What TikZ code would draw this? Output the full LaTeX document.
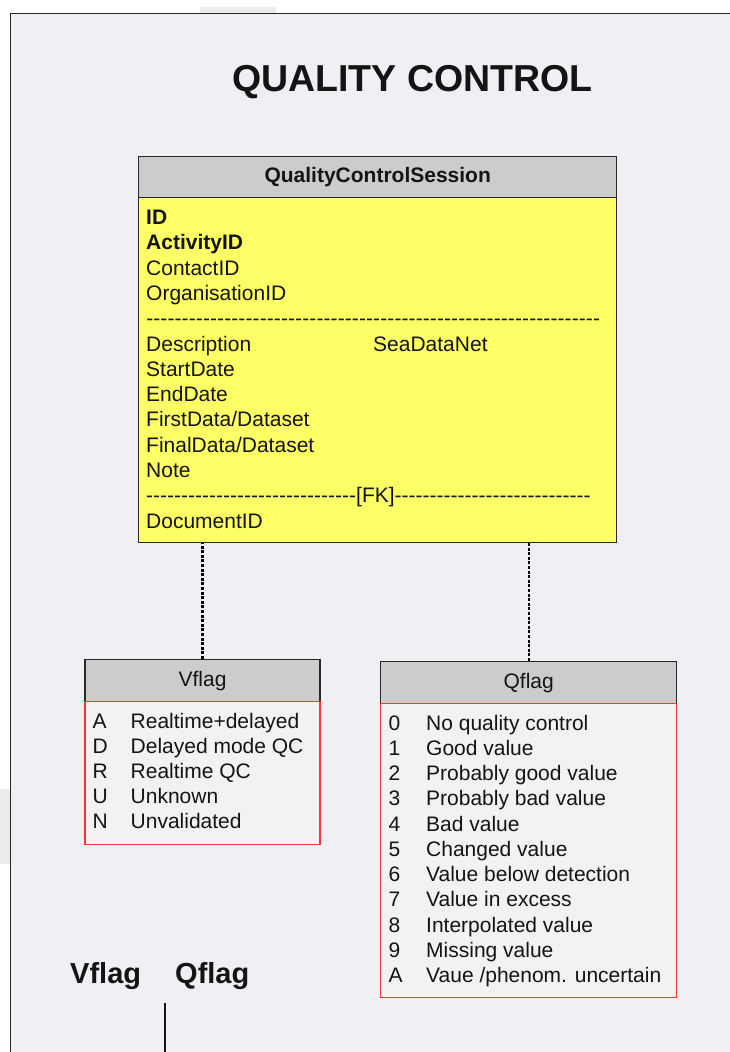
\documentclass[tikz,border=0pt]{standalone}
\usepackage{fontspec}
\setmainfont{Liberation Sans}
\definecolor{paper}{RGB}{240,239,244}
\definecolor{patchgrey}{RGB}{236,236,236}
\definecolor{headgrey}{RGB}{204,204,204}
\definecolor{entity}{RGB}{255,255,102}
\definecolor{flagbody}{RGB}{242,242,242}
\definecolor{flagred}{RGB}{255,51,51}
\definecolor{edge}{RGB}{40,40,40}
\definecolor{ink}{RGB}{20,20,20}
\newcommand{\dashfill}[1]{\hbox to #1{\xleaders\hbox{-}\hfill}}

\begin{document}
\begin{tikzpicture}[x=1pt,y=-1pt,
    every node/.style={text=ink, font=\fontsize{21}{25.3}\selectfont},
    head/.style={draw=edge, fill=headgrey, line width=1.4pt, anchor=north west, inner sep=0pt},
    entitybox/.style={draw=edge, fill=entity, line width=1.4pt, anchor=north west, inner sep=0pt},
    flagbox/.style={draw=flagred, fill=flagbody, line width=1.4pt, anchor=north west, inner sep=0pt},
    row/.style={anchor=base west, inner sep=0pt},
    biglabel/.style={anchor=base west, inner sep=0pt, font=\fontsize{29}{35}\selectfont\bfseries},
    link/.style={black, line width=2.2pt, dash pattern=on 3pt off 1.6pt}]
  \useasboundingbox (0,0) rectangle (730,1052);
  \fill[white] (0,0) rectangle (730,1052);
  \fill[patchgrey] (200,6.5) rectangle (276,13);
  \fill[patchgrey] (0,789) rectangle (10,864);
  \fill[paper] (10.5,13.5) rectangle (730,1052);
  \draw[edge, line width=1.4pt] (10.5,1052) -- (10.5,13.5) -- (730,13.5);

  \node[anchor=base west, inner sep=0pt, font=\fontsize{37.5}{45}\selectfont\bfseries] (title) at (232,91.7) {QUALITY CONTROL};

  \node[head, minimum width=478pt, minimum height=41pt, font=\fontsize{21}{25.3}\selectfont\bfseries] (qcshead) at (138,156) {QualityControlSession};
  \node[entitybox, minimum width=478pt, minimum height=345pt] (qcs) at (138,197) {};
  \foreach \row [count=\i from 0] in {{\bfseries ID}, {\bfseries ActivityID}, ContactID, OrganisationID,
      {\dashfill{454pt}}, {\makebox[227pt][l]{Description}SeaDataNet}, StartDate, EndDate,
      {FirstData/Dataset}, {FinalData/Dataset}, Note, {\dashfill{210pt}[FK]\dashfill{196pt}}, DocumentID}
    \node[row] (qcs-\i) at (146,{224.5+25.3*\i}) {\row};

  \node[head, minimum width=235pt, minimum height=42pt] (vflag) at (84.3,659) {Vflag};
  \node[flagbox, minimum width=235pt, minimum height=143pt] (vflagbody) at (84.3,701) {};
  \foreach \k/\txt [count=\i from 0] in {A/Realtime+delayed, D/Delayed mode QC, R/Realtime QC, U/Unknown, N/Unvalidated}{
    \node[row] (vk-\i) at (92.5,{728+25.2*\i}) {\k};
    \node[row] (vt-\i) at (130.5,{728+25.2*\i}) {\txt};
  }

  \node[head, minimum width=296pt, minimum height=42pt] (qflag) at (380,661) {Qflag};
  \node[flagbox, minimum width=296pt, minimum height=294pt] (qflagbody) at (380,703) {};
  \foreach \k/\txt [count=\i from 0] in {0/No quality control, 1/Good value, 2/Probably good value,
      3/Probably bad value, 4/Bad value, 5/Changed value, 6/Value below detection, 7/Value in excess,
      8/Interpolated value, 9/Missing value, A/{Vaue /phenom. uncertain}}{
    \node[row] (qk-\i) at (388.3,{730+25.27*\i}) {\k};
    \node[row] (qt-\i) at (426,{730+25.27*\i}) {\txt};
  }

  \draw[link] (vflag.north) -- (vflag.north |- qcs.south);
  \draw[link] (qflag.north) -- (qflag.north |- qcs.south);

  \node[biglabel] (vlabel) at (70,983.3) {Vflag};
  \node[biglabel] (qlabel) at (175,983.3) {Qflag};
  \coordinate (stubtop) at (165,1003);
  \coordinate (stubend) at (165,1052);
  \draw[ink, line width=1.6pt] (stubtop) -- (stubend);
\end{tikzpicture}
\end{document}
